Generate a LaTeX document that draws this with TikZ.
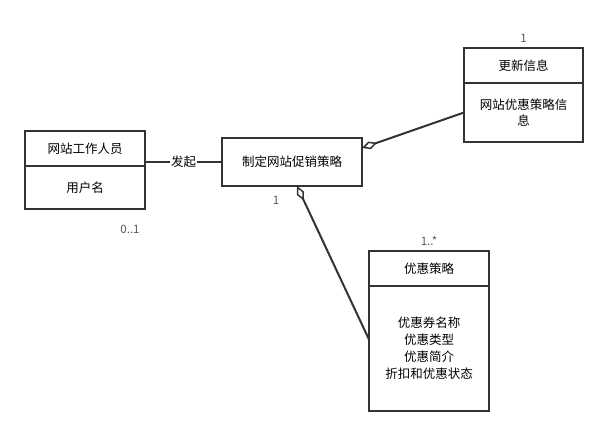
\documentclass[tikz,border=0pt]{standalone}
\usepackage{fontspec}
\setmainfont{Noto Sans CJK SC}
\usepackage{tikz}
\usetikzlibrary{arrows.meta,positioning}

\begin{document}
\begin{tikzpicture}[x=1pt,y=-1pt,node distance=0pt,
    font=\fontsize{12.5}{17}\selectfont,
    part/.style={draw=black!80,line width=2pt,fill=white,inner sep=2pt,outer sep=0pt,align=center},
    mult/.style={text=black!65,font=\fontsize{11.5}{13}\selectfont},
    link/.style={draw=black!80,line width=2pt},
    agg/.style={link,{Diamond[open,length=16pt,width=8pt,line width=1.5pt]}-}]
    \useasboundingbox (0,0) rectangle (609,436);
    % classes
    \node[part,minimum width=120pt,minimum height=35pt] (staff) at (85,148.5) {网站工作人员};
    \node[part,minimum width=120pt,minimum height=43pt] (staff-body) [below=of staff] {用户名};
    \node[part,minimum width=140pt,minimum height=48pt] (plan) at (292,162) {制定网站促销策略};
    \node[part,minimum width=119pt,minimum height=35pt] (update) at (523.5,65.5) {更新信息};
    \node[part,minimum width=119pt,minimum height=59pt] (update-body) [below=of update] {网站优惠策略信\\[-1pt]息};
    \node[part,minimum width=120pt,minimum height=35pt] (policy) at (429,268.5) {优惠策略};
    \node[part,minimum width=120pt,minimum height=125pt] (policy-body) [below=of policy]
      {优惠券名称\\优惠类型\\优惠简介\\折扣和优惠状态};
    % multiplicities
    \node[mult] (m-update) [above=2pt of update] {1};
    \node[mult] (m-policy) [above=2pt of policy] {1..*};
    \node[mult] (m-plan) at ([xshift=-16pt,yshift=-14pt]plan.south) {1};
    \node[mult] (m-staff) at ([xshift=-15pt,yshift=-20pt]staff-body.south east) {0..1};
    % links
    \draw[link] (plan.west) -- (plan.west -| staff.east)
      node[midway,fill=white,inner sep=1pt] {发起};
    \draw[agg] ([yshift=-10pt]plan.north east) -- (update-body.west);
    \draw[agg] ([xshift=5pt]plan.south) -- ([yshift=9pt]policy-body.west);
  \end{tikzpicture}
\end{document}
